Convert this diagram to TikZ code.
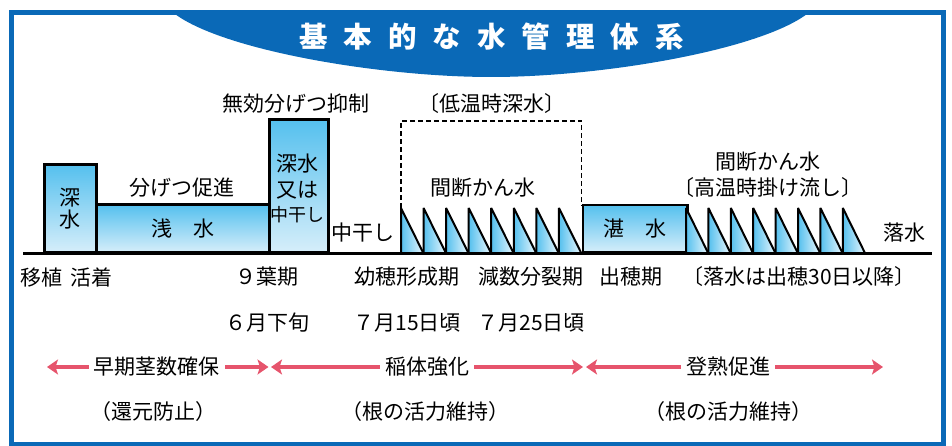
\documentclass[tikz,border=0pt]{standalone}
\usepackage{fontspec}
\setmainfont{Noto Sans CJK JP}
\usetikzlibrary{arrows.meta}
\definecolor{frameblue}{RGB}{10,105,183}
\definecolor{boxtop}{RGB}{85,192,238}
\definecolor{boxbot}{RGB}{214,238,250}
\definecolor{arrowpink}{RGB}{230,84,108}
\tikzset{
  lbl/.style={font=\fontsize{21pt}{25pt}\selectfont, inner sep=0pt, align=center},
  wbox/.style={draw=black, line width=2.5pt, top color=boxtop, bottom color=boxbot,
    inner sep=0pt, anchor=south west, align=center, font=\fontsize{21pt}{25pt}\selectfont},
  trifill/.style={left color=boxtop, right color=boxbot!50!white},
  toothline/.style={draw=black, line width=2pt, line join=bevel},
  dashline/.style={draw=black, line width=1.8pt, dash pattern=on 5pt off 3pt},
  parrow/.style={draw=arrowpink, line width=4pt,
    {Stealth[length=11pt,width=15pt,inset=2.5pt]}-{Stealth[length=11pt,width=15pt,inset=2.5pt]}},
  arrlbl/.style={lbl, fill=white, inner xsep=5pt, inner ysep=2pt}
}
\begin{document}
\begin{tikzpicture}[x=1pt,y=-1pt]
\useasboundingbox (0,0) rectangle (952,446);
% banner
\fill[frameblue] (173,12.5) .. controls (220,50) and (380,77) .. (491,77)
  .. controls (602,77) and (762,50) .. (809,12.5) -- cycle;
\draw[frameblue, line width=5pt] (11.5,12.5) rectangle (943.5,444);
\node[font=\fontsize{28.5pt}{30pt}\selectfont\bfseries, text=white, inner sep=0pt] (title) at (491.5,36.5)
  {基\hspace{16pt}本\hspace{16pt}的\hspace{16pt}な\hspace{16pt}水\hspace{16pt}管\hspace{16pt}理\hspace{16pt}体\hspace{16pt}系};

% boxes
\node[wbox, minimum width=52pt, minimum height=87.5pt, font=\fontsize{21pt}{22pt}\selectfont] (b1) at (43,253.5) {深\\水};
\node[wbox, minimum width=173pt, minimum height=47.5pt] (b2) at (95,253.5) {\raisebox{-3pt}{浅　水}};
\node[wbox, minimum width=59pt, minimum height=132.5pt] (b3) at (268,253.5) {};
\node[wbox, minimum width=104.5pt, minimum height=47pt] (b4) at (581.5,253.5) {\raisebox{-3pt}{湛　水}};
\node[lbl] (b3a) at (297.5,163.5) {深水};
\node[lbl] (b3b) at (297.5,190) {又は};
\node[lbl, font=\fontsize{18pt}{20pt}\selectfont] (b3c) at (297.5,215) {中干し};

% sawtooth 1
\foreach \i in {0,...,7}{
  \pgfmathsetmacro\xa{401+\i*22.56}
  \pgfmathsetmacro\xb{401+(\i+1)*22.56}
  \fill[trifill] (\xa,253.5) -- (\xa,208) -- (\xb,253.5) -- cycle;
  \draw[toothline] (\xa,253.5) -- (\xa,208) -- (\xb,253.5);
}
% sawtooth 2
\foreach \i in {0,...,7}{
  \pgfmathsetmacro\xa{686+\i*22.4}
  \pgfmathsetmacro\xb{686+(\i+1)*22.4}
  \fill[trifill] (\xa,253.5) -- (\xa,208) -- (\xb,253.5) -- cycle;
  \draw[toothline] (\xa,253.5) -- (\xa,208) -- (\xb,253.5);
}
% dashed box
\draw[dashline] (401,208) -- (401,121) -- (581.5,121) -- (581.5,206.5);

% baseline
\coordinate (bl) at (23,253.5);
\coordinate (br) at (932,253.5);
\draw[line width=2.5pt] (bl) -- (br);

% upper labels
\node[lbl] (l1) at (296,104) {無効分げつ抑制};
\node[lbl] (l2) at (492,104) {〔低温時深水〕};
\node[lbl] (l3) at (182,188) {分げつ促進};
\node[lbl] (l4) at (483,188) {間断かん水};
\node[lbl] (l5) at (768,162) {間断かん水};
\node[lbl] (l6) at (768,188) {〔高温時掛け流し〕};
\node[lbl] (l7) at (363,233) {中干し};
\node[lbl] (l8) at (904,233) {落水};

% row 1
\node[lbl] (r1a) at (66.5,277) {移植\hspace{8pt}活着};
\node[lbl] (r1b) at (267,277) {９葉期};
\node[lbl] (r1c) at (407,277) {幼穂形成期};
\node[lbl] (r1d) at (531,277) {減数分裂期};
\node[lbl] (r1e) at (631,277) {出穂期};
\node[lbl] (r1f) at (799,277) {〔落水は出穂30日以降〕};
% row 2
\node[lbl] (r2a) at (267,323) {６月下旬};
\node[lbl] (r2b) at (407,323) {７月15日頃};
\node[lbl] (r2c) at (531,323) {７月25日頃};

% arrows
\coordinate (a1l) at (47,367);
\coordinate (a1r) at (268.5,367);
\coordinate (a2l) at (271,367);
\coordinate (a2r) at (583,367);
\coordinate (a3l) at (586,367);
\coordinate (a3r) at (883,367);
\draw[parrow] (a1l) -- (a1r);
\draw[parrow] (a2l) -- (a2r);
\draw[parrow] (a3l) -- (a3r);
\node[arrlbl] (t1) at (156.5,367) {早期茎数確保};
\node[arrlbl] (t2) at (427,367) {稲体強化};
\node[arrlbl] (t3) at (728,367) {登熟促進};

% row 4
\node[lbl] (r4a) at (153.5,412) {（還元防止）};
\node[lbl] (r4b) at (425,412) {（根の活力維持）};
\node[lbl] (r4c) at (728,412) {（根の活力維持）};
\end{tikzpicture}
\end{document}
